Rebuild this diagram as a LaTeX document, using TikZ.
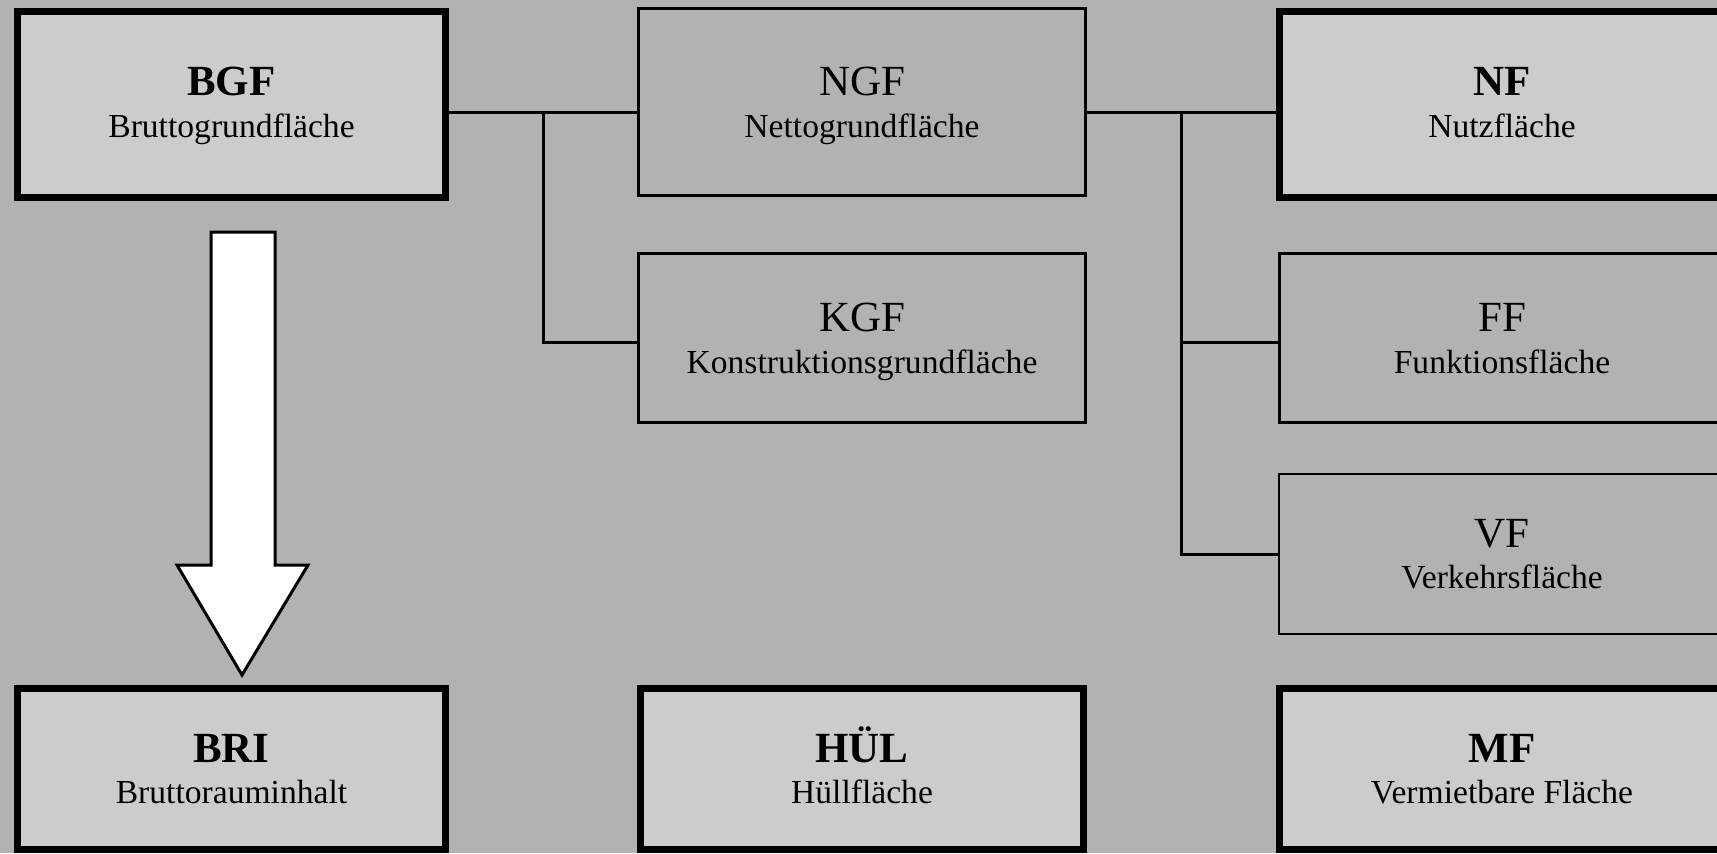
\documentclass[tikz,border=0pt]{standalone}
\usepackage{fontspec}
\setmainfont{Liberation Serif}
\definecolor{canvas}{gray}{0.70}
\definecolor{boxlight}{gray}{0.80}

\begin{document}
\begin{tikzpicture}[x=0.5pt,y=-0.5pt,
  heavybox/.style={draw=black, line width=3.5pt, fill=boxlight, inner sep=0pt},
  plainbox/.style={draw=black, line width=1.5pt, fill=canvas, inner sep=0pt},
  thinbox/.style={plainbox, line width=1pt},
  title/.style={anchor=base, inner sep=0pt, font=\fontsize{21.5pt}{24pt}\selectfont},
  subtitle/.style={anchor=base, inner sep=0pt, font=\fontsize{16.8pt}{19pt}\selectfont},
  link/.style={draw=black, line width=1.5pt},
  bigarrow/.style={draw=black, line width=1.5pt, fill=white, line join=miter}
]
% page and background
\fill[canvas] (0,0) rectangle (1717,853);
\useasboundingbox (0,0) rectangle (1717,853);
\clip (0,0) rectangle (1717,853);

% ---- boxes ----
\node[heavybox, minimum width=214pt,  minimum height=93pt]   (bgf) at (231.5,104.5) {};
\node[plainbox, minimum width=223.5pt, minimum height=93.5pt] (ngf) at (862,102) {};
\node[heavybox, minimum width=224pt,  minimum height=93pt]   (nf)  at (1503.5,104.5) {};
\node[plainbox, minimum width=223.5pt, minimum height=84.5pt] (kgf) at (862,338) {};
\node[plainbox, minimum width=224pt,  minimum height=84.5pt] (ff)  at (1503.5,338) {};
\node[thinbox,  minimum width=224.5pt, minimum height=80pt]   (vf)  at (1503.5,554) {};
\node[heavybox, minimum width=214pt,  minimum height=80.5pt] (bri) at (231.5,769) {};
\node[heavybox, minimum width=221.5pt, minimum height=80.5pt] (hul) at (862,769) {};
\node[heavybox, minimum width=224pt,  minimum height=80.5pt] (mf)  at (1503.5,769) {};

% ---- labels ----
\node[title]    (bgft) at (231.5,95)  {\textbf{BGF}};
\node[subtitle] (bgfs) at (231.5,137) {Bruttogrundfläche};
\node[title]    (ngft) at (862,95)    {NGF};
\node[subtitle] (ngfs) at (862,137)   {Nettogrundfläche};
\node[title]    (nft)  at (1502,95)   {\textbf{NF}};
\node[subtitle] (nfs)  at (1502,137)  {Nutzfläche};
\node[title]    (kgft) at (862,331)   {KGF};
\node[subtitle] (kgfs) at (862,373)   {Konstruktionsgrundfläche};
\node[title]    (fft)  at (1502,331)  {FF};
\node[subtitle] (ffs)  at (1502,373)  {Funktionsfläche};
\node[title]    (vft)  at (1502,547)  {VF};
\node[subtitle] (vfs)  at (1502,588)  {Verkehrsfläche};
\node[title]    (brit) at (231.5,762) {\textbf{BRI}};
\node[subtitle] (bris) at (231.5,803) {Bruttorauminhalt};
\node[title]    (hult) at (862,762)   {\textbf{HÜL}};
\node[subtitle] (huls) at (862,803)   {Hüllfläche};
\node[title]    (mft)  at (1502,762)  {\textbf{MF}};
\node[subtitle] (mfs)  at (1502,803)  {Vermietbare Fläche};

% ---- tree connectors ----
\coordinate (ja)  at (543,112);
\coordinate (jak) at (543,342);
\draw[link] (bgf.east |- ja) -- (ngf.west |- ja);
\draw[link] (ja) -- (jak) -- (kgf.west |- jak);

\coordinate (jb)  at (1181,112);
\coordinate (jbf) at (1181,342);
\coordinate (jbv) at (1181,554);
\draw[link] (ngf.east |- jb) -- (nf.west |- jb);
\draw[link] (jb) -- (jbv) -- (vf.west |- jbv);
\draw[link] (jbf) -- (ff.west |- jbf);

% ---- block arrow from BGF down to BRI ----
\coordinate (atl) at (211,232);
\coordinate (atr) at (275,232);
\coordinate (atip) at (242,675);
\draw[bigarrow] (atl) -- (atr) -- (275,565) -- (308,565) -- (atip)
  -- (177,565) -- (211,565) -- cycle;
\end{tikzpicture}
\end{document}
